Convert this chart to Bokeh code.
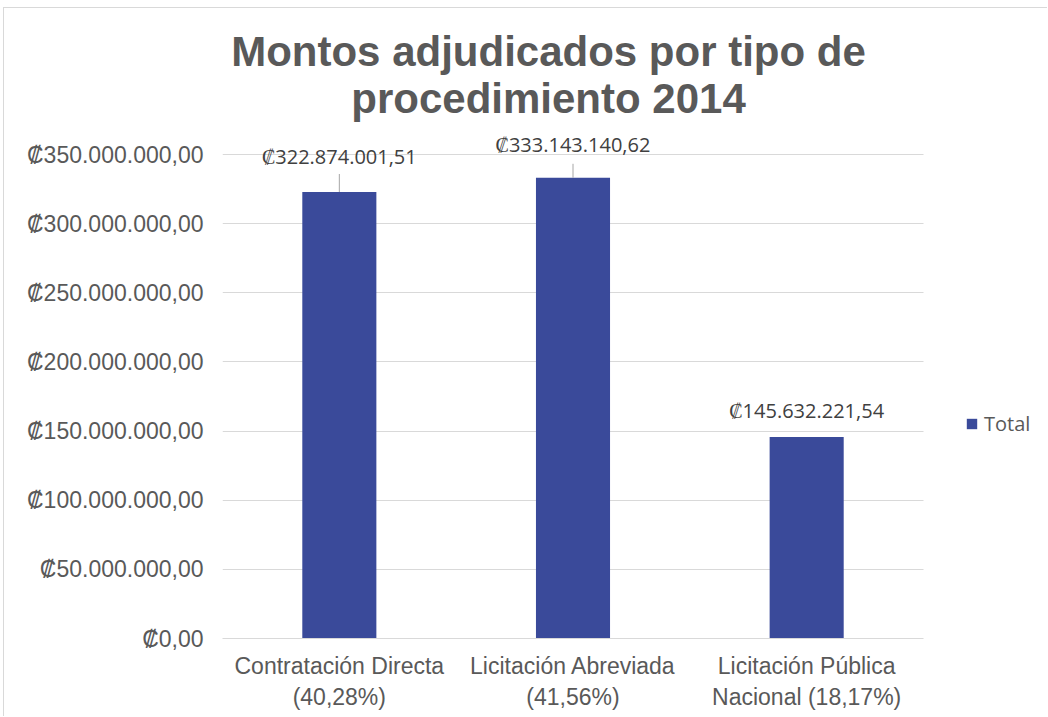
from bokeh.plotting import figure
from bokeh.models import (ColumnDataSource, FixedTicker, LabelSet, Label, Legend, LegendItem)
from bokeh.core.properties import value
from bokeh.embed import file_html
from bokeh.resources import INLINE

# ---- data ----
categories = ["Contratación Directa\n(40,28%)", "Licitación Abreviada\n(41,56%)",
              "Licitación Pública\nNacional (18,17%)"]
values = [322874001.51, 333143140.62, 145632221.54]
value_labels = ["₡322.874.001,51", "₡333.143.140,62", "₡145.632.221,54"]
series_name = "Total"
title_lines = ["Montos adjudicados por tipo de", "procedimiento 2014"]
yticks = [0, 50e6, 100e6, 150e6, 200e6, 250e6, 300e6, 350e6]
ytick_labels = ["₡0,00", "₡50.000.000,00", "₡100.000.000,00", "₡150.000.000,00",
                "₡200.000.000,00", "₡250.000.000,00", "₡300.000.000,00", "₡350.000.000,00"]

# ---- styling / placement (not data) ----
label_offsets_px = [36, 33, 27]
leader_px = [18, 14, 0]
BAR = "#3A4A9A"
GRID = "#D9D9D9"
TXT = "#595959"

OX, OY = 4, 8                 # page offset of the canvas (inside the chart border)
W, H = 1048 - OX, 717 - OY
FRAME_L, CAT_R, FRAME_B = 222, 923, 638     # page pixels
GRID_TOP = 154                               # page pixel of the top tick
ncat = len(categories)
ymax_tick = 350e6
units_per_px = ymax_tick / (FRAME_B - GRID_TOP)
y_end = (FRAME_B - OY) * units_per_px
px_per_cat = (CAT_R - FRAME_L) / ncat
x_end = (1048 - FRAME_L) / px_per_cat

xpos = [i + 0.5 for i in range(ncat)]

p = figure(width=W, height=H, x_range=(0, x_end), y_range=(0, y_end),
           output_backend="svg", toolbar_location=None,
           min_border_left=FRAME_L - OX, min_border_right=0,
           min_border_top=0, min_border_bottom=717 - FRAME_B)
p.outline_line_color = None
p.background_fill_color = "white"
p.border_fill_color = "white"
p.styles = {"margin-left": "3px", "margin-top": "7px",
            "border-left": "1px solid #D9D9D9", "border-top": "1px solid #D9D9D9"}

src = ColumnDataSource(dict(
    x=xpos, top=values, lab=value_labels,
    yoff=label_offsets_px,
    y1=[v + lp * units_per_px for v, lp in zip(values, leader_px)],
))

r = p.vbar(x="x", top="top", width=0.317, source=src, fill_color=BAR, line_color=None)
p.segment(x0="x", y0="top", x1="x", y1="y1", source=src, line_color="#A6A6A6", line_width=1)

labels = LabelSet(x="x", y="top", text="lab", y_offset="yoff", source=src,
                  text_align="center", text_baseline="middle",
                  text_font=value("Open Sans"), text_font_size=value("20px"),
                  text_color=value("#404040"))
p.add_layout(labels)

# axes
p.yaxis.ticker = FixedTicker(ticks=yticks)
p.yaxis.major_label_overrides = {t: s for t, s in zip(yticks, ytick_labels)}
p.yaxis.axis_line_color = None
p.yaxis.major_tick_line_color = None
p.yaxis.minor_tick_line_color = None
p.yaxis.major_label_text_font = "Liberation Sans"
p.yaxis.major_label_text_font_size = "23px"
p.yaxis.major_label_text_color = TXT
p.yaxis.major_label_standoff = 13

p.xaxis.ticker = FixedTicker(ticks=xpos)
p.xaxis.major_label_overrides = {x: c for x, c in zip(xpos, categories)}
p.xaxis.bounds = (0, ncat)
p.xaxis.axis_line_color = GRID
p.xaxis.major_tick_line_color = None
p.xaxis.minor_tick_line_color = None
p.xaxis.major_label_text_font = "Liberation Sans"
p.xaxis.major_label_text_font_size = "23px"
p.xaxis.major_label_text_color = TXT
p.xaxis.major_label_standoff = 8

p.xgrid.grid_line_color = None
p.ygrid.grid_line_color = GRID
p.ygrid.grid_line_width = 1
p.ygrid.cross_bounds = (0, ncat)

# title lines (screen units relative to frame bottom-left)
cx = 548 - FRAME_L
for line, base_y in zip(title_lines, [51, 98]):
    p.add_layout(Label(x=cx, y=FRAME_B - base_y, x_units="screen", y_units="screen",
                       text=line, text_align="center", text_baseline="alphabetic",
                       text_font="Liberation Sans", text_font_style="bold",
                       text_font_size="42px", text_color=TXT))

legend = Legend(items=[LegendItem(label=series_name, renderers=[r])],
                location=(965 - FRAME_L, FRAME_B - 437),
                glyph_width=13, glyph_height=13, label_standoff=6,
                padding=0, margin=0, spacing=0,
                border_line_color=None, background_fill_alpha=0,
                label_text_font="Open Sans", label_text_font_size="20px",
                label_text_color=TXT, label_height=20)
p.add_layout(legend, "center")

open("out.html", "w").write(file_html(p, INLINE))
